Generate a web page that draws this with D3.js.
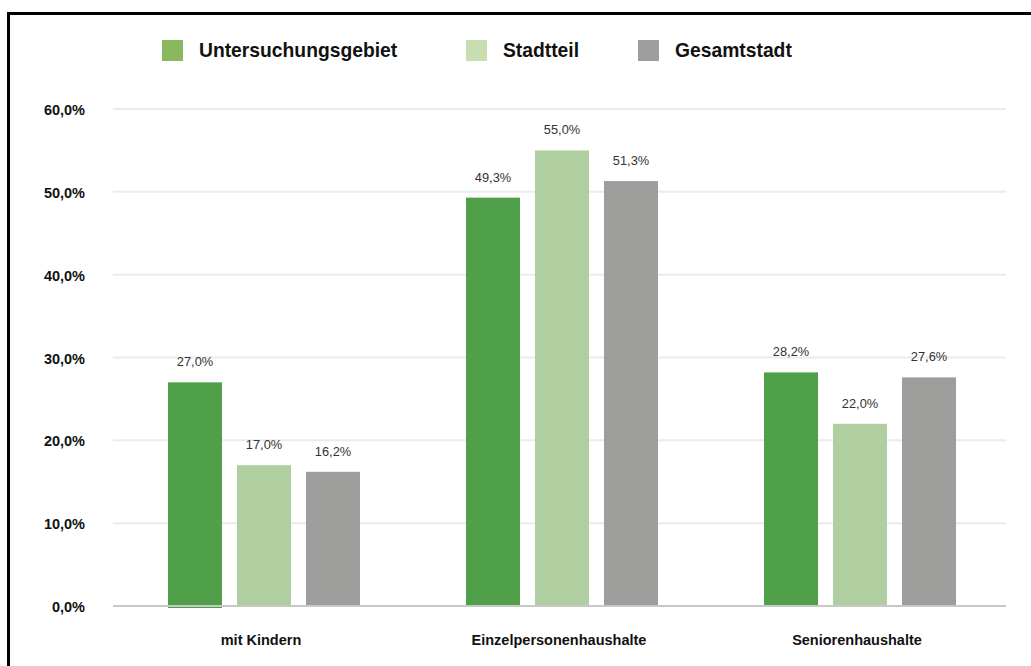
<!DOCTYPE html>
<html>
<head>
<meta charset="utf-8">
<script src="https://cdn.jsdelivr.net/npm/d3@7"></script>
<style>
    body { margin: 0; background: #fff; }
    svg { display: block; font-family: "Liberation Sans", Arial, Helvetica, sans-serif; }
    .grid line { stroke: #ebebeb; stroke-width: 2; }
    .ytick { font-size: 14.5px; font-weight: bold; fill: #111; }
    .xtick { font-size: 14.5px; font-weight: bold; fill: #111; }
    .val { font-size: 12.8px; fill: #333; }
    .legend text { font-size: 19.3px; font-weight: bold; fill: #111; }
</style>
</head>
<body>
<svg id="svg" width="1031" height="666"></svg>
<script>
// data
var categories = ['mit Kindern', 'Einzelpersonenhaushalte', 'Seniorenhaushalte'];
var seriesNames = ['Untersuchungsgebiet', 'Stadtteil', 'Gesamtstadt'];
var untersuchungsgebiet = [27.0, 49.3, 28.2];
var stadtteil = [17.0, 55.0, 22.0];
var gesamtstadt = [16.2, 51.3, 27.6];
var yTicks = [0, 10, 20, 30, 40, 50, 60];

var barColors = ['#4fa048', '#b0cfa0', '#9d9d9c'],
    legendColors = ['#8bb85c', '#c8deb0', '#9d9d9c'];

var series = [untersuchungsgebiet, stadtteil, gesamtstadt];

var $svg = d3.select('#svg');

// frame (only top and left edges are visible)
$svg.append('rect')
    .attr('x', 8.5).attr('y', 13.5)
    .attr('width', 1100).attr('height', 700)
    .attr('fill', 'none')
    .attr('stroke', '#000')
    .attr('stroke-width', 3);

var y = d3.scaleLinear().domain([0, 60]).range([606, 109]);

var x0 = d3.scaleBand().domain(categories).range([115, 1009]);
var x1 = d3.scaleBand().domain(d3.range(series.length))
    .range([0, 192]).paddingInner(15 / 69);

var fmt = function (v) { return d3.format('.1f')(v).replace('.', ',') + '%'; };

// grid
var $grid = $svg.append('g').classed('grid', true);
$grid.selectAll('line')
    .data(yTicks.filter(function (t) { return t > 0; }))
    .enter().append('line')
    .attr('x1', 113).attr('x2', 1006)
    .attr('y1', function (d) { return y(d); })
    .attr('y2', function (d) { return y(d); });

$svg.append('g').selectAll('text')
    .data(yTicks)
    .enter().append('text')
    .classed('ytick', true)
    .attr('x', 85)
    .attr('y', function (d) { return y(d) + 6; })
    .attr('text-anchor', 'end')
    .text(function (d) { return fmt(d); });

// bars
var $groups = $svg.append('g').selectAll('g')
    .data(categories)
    .enter().append('g')
    .attr('transform', function (d) {
        return 'translate(' + (x0(d) + x0.bandwidth() / 2 - 96) + ',0)';
    });

$groups.each(function (cat, ci) {
    var $g = d3.select(this);
    series.forEach(function (vals, si) {
        var v = vals[ci];
        $g.append('rect')
            .attr('x', x1(si))
            .attr('y', y(v))
            .attr('width', x1.bandwidth())
            .attr('height', y(0) - y(v) + (ci === 0 && si === 0 ? 2 : 0))
            .attr('fill', barColors[si]);
        $g.append('text')
            .classed('val', true)
            .attr('x', x1(si) + x1.bandwidth() / 2)
            .attr('y', y(v) - 16)
            .attr('text-anchor', 'middle')
            .text(fmt(v));
    });
});

// zero line
$svg.append('line')
    .attr('x1', 113).attr('x2', 1006)
    .attr('y1', y(0)).attr('y2', y(0))
    .attr('stroke', '#c8c8c8')
    .attr('stroke-width', 2);

// x labels
$svg.append('g').selectAll('text')
    .data(categories)
    .enter().append('text')
    .classed('xtick', true)
    .attr('x', function (d) { return x0(d) + x0.bandwidth() / 2 - 3; })
    .attr('y', 645)
    .attr('text-anchor', 'middle')
    .text(function (d) { return d; });

// legend
var legendX = [162, 466, 638];
var $legend = $svg.append('g').classed('legend', true);
seriesNames.forEach(function (name, i) {
    $legend.append('rect')
        .attr('x', legendX[i]).attr('y', 40)
        .attr('width', 21).attr('height', 21)
        .attr('fill', legendColors[i]);
    $legend.append('text')
        .attr('x', legendX[i] + 37)
        .attr('y', 57)
        .text(name);
});
</script>
</body>
</html>
